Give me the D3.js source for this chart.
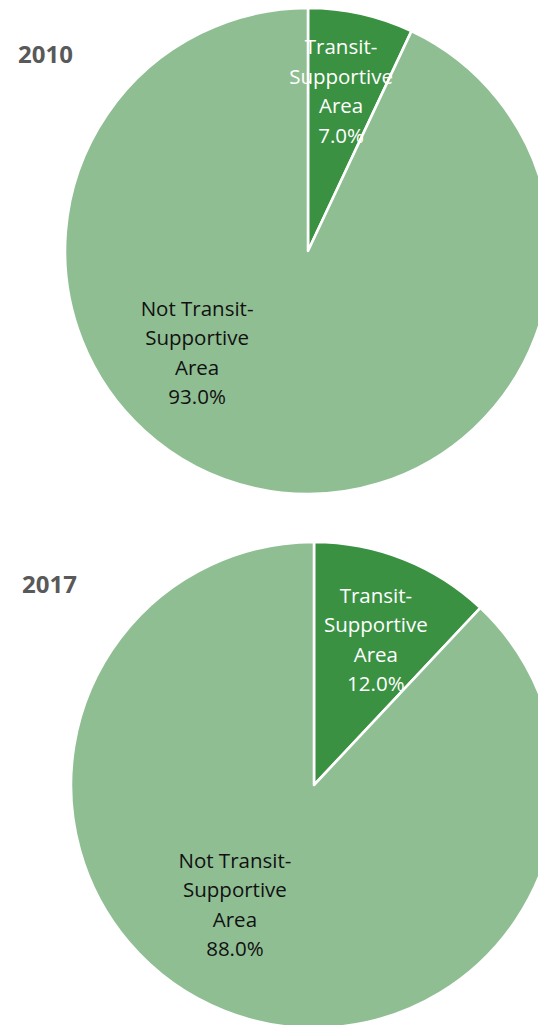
<!DOCTYPE html>
<html>
<head>
<meta charset="utf-8">
<script src="https://cdn.jsdelivr.net/npm/d3@7"></script>
<style>
  html, body { margin: 0; padding: 0; background: #ffffff; overflow: hidden; }
  svg { display: block; }
</style>
</head>
<body>
<svg id="chart" width="538" height="1025"></svg>
<script>
// Share of area that is transit-supportive, by year
const years = ["2010", "2017"];
const categories = ["Transit-Supportive Area", "Not Transit-Supportive Area"];
const labelLines = [["Transit-", "Supportive", "Area"], ["Not Transit-", "Supportive", "Area"]];
const values2010 = [7.0, 93.0];
const values2017 = [12.0, 88.0];
const seriesValues = [values2010, values2017];

// Layout of each pie (centre, radius, title spot, label polar placement in degrees)
const layout = [
  { cx: 308, cy: 251, r: 243, titleX: 18, titleY: 63,
    labels: [{ angle: 11.7, dist: 163 }, { angle: 227.4, dist: 150.7 }] },
  { cx: 314, cy: 785, r: 243, titleX: 22, titleY: 593,
    labels: [{ angle: 23.1, dist: 157.7 }, { angle: 213.4, dist: 143.7 }] }
];

const color = d3.scaleOrdinal().domain(categories).range(["#3b9142", "#8fbe93"]);
const textColor = d3.scaleOrdinal().domain(categories).range(["#ffffff", "#111111"]);

const svg = d3.select("#chart");
const pie = d3.pie().sort(null).value(d => d.value);
const fmt = d3.format(".1f");
const lineH = 29.5;

years.forEach((year, i) => {
  const L = layout[i];
  const data = categories.map((c, k) => ({ cat: c, value: seriesValues[i][k], lines: labelLines[k] }));
  const arcs = pie(data);
  const arc = d3.arc().innerRadius(0).outerRadius(L.r);

  const g = svg.append("g").attr("transform", `translate(${L.cx},${L.cy})`);

  g.selectAll("path.slice")
    .data(arcs)
    .join("path")
    .attr("class", "slice")
    .attr("d", arc)
    .attr("fill", d => color(d.data.cat))
    .attr("stroke", "#ffffff")
    .attr("stroke-width", 2.6)
    .attr("stroke-linejoin", "round");

  arcs.forEach((a, k) => {
    const p = L.labels[k];
    const rad = p.angle * Math.PI / 180;
    const x = Math.sin(rad) * p.dist;
    const y = -Math.cos(rad) * p.dist;
    const lines = a.data.lines.concat([fmt(a.data.value) + "%"]);
    const t = g.append("text")
      .attr("text-anchor", "middle")
      .attr("font-family", "'Open Sans', sans-serif")
      .attr("font-size", 20.5)
      .attr("fill", textColor(a.data.cat));
    lines.forEach((ln, j) => {
      t.append("tspan")
        .attr("x", x)
        .attr("y", y + (j - 1.5) * lineH + 7)
        .text(ln);
    });
  });

  svg.append("text")
    .attr("x", L.titleX)
    .attr("y", L.titleY)
    .attr("font-family", "'Open Sans', sans-serif")
    .attr("font-weight", "bold")
    .attr("font-size", 24)
    .attr("fill", "#595959")
    .text(year);
});
</script>
</body>
</html>
